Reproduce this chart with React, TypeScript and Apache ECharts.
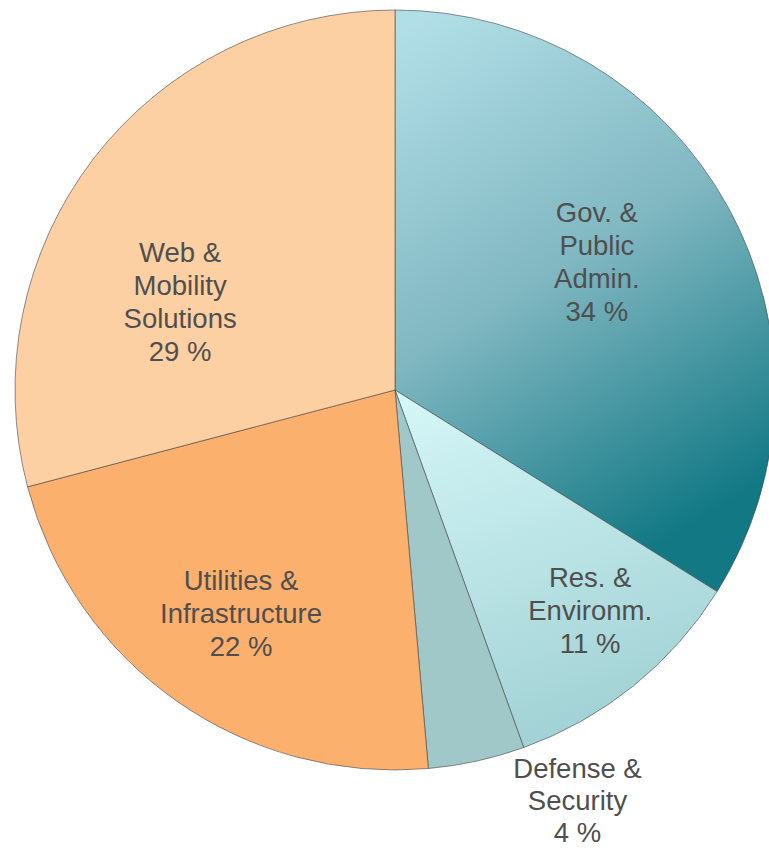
import React, { useEffect, useRef } from "react";
import * as echarts from "echarts";

const categories = [
  "Gov. &\nPublic\nAdmin.",
  "Res. &\nEnvironm.",
  "Defense &\nSecurity",
  "Utilities &\nInfrastructure",
  "Web &\nMobility\nSolutions",
];
const shares = [33.9, 10.6, 4.1, 22.3, 29.1];

const sliceFills: any[] = [
  new echarts.graphic.LinearGradient(0.1, 0, 0.5, 1, [
    { offset: 0, color: "#b2dfe7" },
    { offset: 0.5, color: "#80b7c1" },
    { offset: 1, color: "#117884" },
  ]),
  new echarts.graphic.LinearGradient(0, 0, 0.3, 1, [
    { offset: 0, color: "#d6f7f8" },
    { offset: 1, color: "#a3d3d6" },
  ]),
  "#a0c8c9",
  "#fcb06e",
  "#fdd0a3",
];
const labelShift: [number, number][] = [
  [33, -34],
  [74, 70],
  [141, 222],
  [-43, 66],
  [-62, 30],
];

export default function App() {
  const ref = useRef<HTMLDivElement>(null);
  useEffect(() => {
    if (!ref.current) return;
    const chart = echarts.init(ref.current, null, { renderer: "svg" });
    chart.setOption({
      animation: false,
      series: [
        {
          type: "pie",
          center: [395, 390],
          radius: 380,
          startAngle: 90,
          clockwise: true,
          avoidLabelOverlap: false,
          itemStyle: {
            borderColor: "rgba(70,70,70,0.6)",
            borderWidth: 1,
          },
          label: {
            show: true,
            position: "inside",
            color: "#4f4f4f",
            fontFamily: "Liberation Sans, Arial, sans-serif",
            fontSize: 27.5,
            lineHeight: 33,
            align: "center",
            formatter: (p: any) => `${p.name}\n${Math.round(p.value)} %`,
          },
          labelLine: { show: false },
          emphasis: { disabled: true },
          data: categories.map((name, i) => ({
            name,
            value: shares[i],
            itemStyle: { color: sliceFills[i] },
            label: i === 2 ? { offset: labelShift[i], lineHeight: 32 } : { offset: labelShift[i] },
          })),
        },
      ],
    });
    return () => chart.dispose();
  }, []);
  return (
    <div
      ref={ref}
      style={{ position: "absolute", left: 0, top: 0, width: 769, height: 850, background: "#fff" }}
    />
  );
}
